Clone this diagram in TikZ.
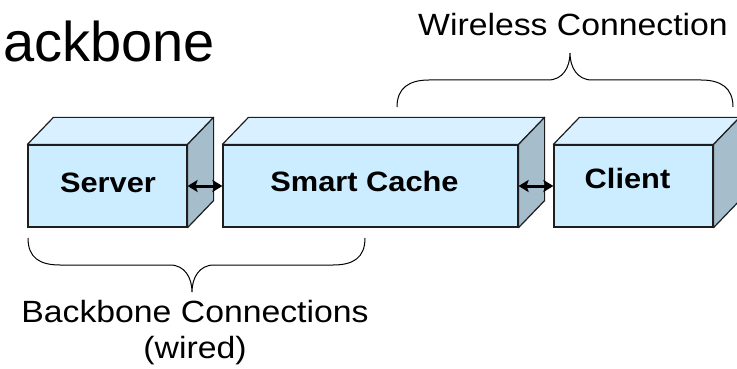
\documentclass[tikz,border=0pt]{standalone}
\usepackage{fontspec}
\setmainfont{Liberation Sans}
\newfontfamily\widefont[FakeStretch=1.1]{Liberation Sans}
\usepackage{xcolor}
\definecolor{frontblue}{RGB}{204, 236, 255}
\definecolor{topblue}{RGB}{216, 240, 255}
\definecolor{sidegrey}{RGB}{166, 189, 204}
\definecolor{edgegrey}{RGB}{30, 30, 30}
\usetikzlibrary{arrows.meta, positioning, calc}

\tikzset{
  face/.style={draw=edgegrey, line width=1.2pt, fill=frontblue, minimum height=82pt, inner sep=0pt},
  boxtext/.style={font=\widefont\fontsize{28}{32}\selectfont\bfseries, anchor=base},
  bigtext/.style={font=\widefont\fontsize{30.7}{36.5}\selectfont, align=center},
  link/.style={{Stealth[length=10pt, width=12pt, inset=2pt]}-{Stealth[length=10pt, width=12pt, inset=2pt]}, line width=3pt, black},
  brace/.style={line width=1pt, black}
}

\begin{document}
\begin{tikzpicture}[x=1pt, y=-1pt]
  \useasboundingbox (0,0) rectangle (737,369);

  % title fragment
  \node[font=\fontsize{56}{60}\selectfont, anchor=base east, inner sep=0pt] (title) at (215,62) {ackbone};

  % front faces of the three boxes
  \node[face, minimum width=159pt] (server) at (107.5,186) {};
  \node[face, minimum width=295pt] (cache) at (370.5,186) {};
  \node[face, minimum width=159pt] (client) at (633.5,186) {};

  % top and side faces
  \foreach \b in {server, cache, client} {
    \draw[draw=edgegrey, line width=1.2pt, fill=topblue, line join=round]
      (\b.north west) -- ++(26,-27) -- ($(\b.north east)+(26,-27)$) -- (\b.north east) -- cycle;
    \draw[draw=edgegrey, line width=1.2pt, fill=sidegrey, line join=round]
      (\b.north east) -- ++(26,-27) -- ($(\b.south east)+(26,-27)$) -- (\b.south east) -- cycle;
  }

  % box labels
  \node[boxtext] (servertxt) at ($(server.center)+(0.5,6)$) {Server};
  \node[boxtext] (cachetxt) at ($(cache.center)+(-6,5)$) {Smart Cache};
  \node[boxtext] (clienttxt) at ($(client.center)+(-6,2)$) {Client};

  % links between the boxes
  \draw[link] (server.east) -- (cache.west);
  \draw[link] (cache.east) -- (client.west);

  % wireless brace
  \draw[brace] (397,107) .. controls (397,88) and (409,80) .. (429,80) -- (548,80)
    .. controls (563,80) and (570,67) .. (570,53)
    .. controls (570,67) and (577,80) .. (592,80) -- (701,80)
    .. controls (721,80) and (733,88) .. (733,107);
  \node[bigtext, anchor=base] (wireless) at (573,36) {Wireless Connection};

  % backbone brace
  \draw[brace] (28,238) .. controls (28,258) and (40,265) .. (60,265) -- (170,265)
    .. controls (185,265) and (192,278) .. (192,292)
    .. controls (192,278) and (199,265) .. (214,265) -- (333,265)
    .. controls (353,265) and (365,258) .. (365,238);
  \node[bigtext, anchor=base] (backbone) at (195,358.5) {Backbone Connections\\(wired)};
\end{tikzpicture}
\end{document}
